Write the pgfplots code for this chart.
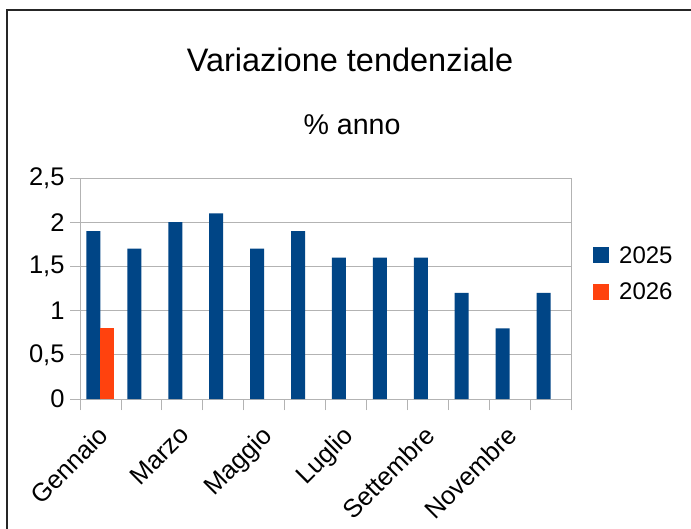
\documentclass[border=0pt]{standalone}
\usepackage{pgfplots}
\pgfplotsset{compat=1.18}
\usepackage{fontspec}
\setmainfont{Liberation Sans}
\definecolor{lblue}{RGB}{0,69,134}
\definecolor{lorange}{RGB}{255,66,14}
\definecolor{lgrid}{RGB}{179,179,179}
\begin{document}
\begin{tikzpicture}
\useasboundingbox (0pt,0pt) rectangle (691pt,528pt);
\fill[white] (0pt,0pt) rectangle (691pt,528pt);
\draw[line width=1.2pt,black!85] (7pt,-5pt) -- (7pt,518pt) -- (700pt,518pt);
\node[anchor=base,font=\fontsize{32.5}{38}\selectfont] at (350pt,456pt) {Variazione tendenziale};
\node[anchor=base,font=\fontsize{28.6}{34}\selectfont] at (352pt,393pt) {\% anno};
\begin{axis}[
  at={(80pt,129pt)}, anchor=south west,
  scale only axis, width=491pt, height=221pt,
  ybar=0pt, bar width=14pt,
  enlarge x limits=false, enlarge y limits=false,
  xmin=-0.5, xmax=11.5, ymin=0, ymax=2.5,
  ytick={0,0.5,...,2.5},
  xtick={0,2,4,6,8,10},
  xticklabels={Gennaio,Marzo,Maggio,Luglio,Settembre,Novembre},
  minor xtick={-0.5,0.5,...,11.5},
  tick pos=left,
  tick align=outside,
  major tick length=10pt, minor tick length=11pt,
  major x tick style={draw=none},
  tick style={lgrid, line width=0.8pt},
  axis line style={lgrid, line width=0.8pt},
  ymajorgrids, grid style={lgrid, line width=0.8pt},
  /pgf/number format/.cd, use comma, assume math mode=true, /pgfplots/.cd,
  ticklabel style={font=\fontsize{25.5}{30}\selectfont},
  yticklabel style={xshift=-2pt},
  xticklabel style={xshift=-4pt, yshift=-10pt, rotate=45, anchor=north east},
  legend style={at={(1,0.5)}, anchor=west, xshift=22pt, yshift=15pt, draw=none, fill=none,
    font=\fontsize{24}{28}\selectfont, row sep=14pt, inner sep=0pt,
    /tikz/every odd column/.append style={column sep=8pt}},
  legend cell align=left,
  legend image code/.code={\fill[#1] (0pt,-8pt) rectangle (16pt,8pt);},
]
\addplot[fill=lblue, draw=none] coordinates {(0,1.9) (1,1.7) (2,2.0) (3,2.1) (4,1.7) (5,1.9) (6,1.6) (7,1.6) (8,1.6) (9,1.2) (10,0.8) (11,1.2)};
\addplot[fill=lorange, draw=none] coordinates {(0,0.8) (1,nan) (2,nan) (3,nan) (4,nan) (5,nan) (6,nan) (7,nan) (8,nan) (9,nan) (10,nan) (11,nan)};
\legend{2025,2026}
\end{axis}
\end{tikzpicture}
\end{document}
